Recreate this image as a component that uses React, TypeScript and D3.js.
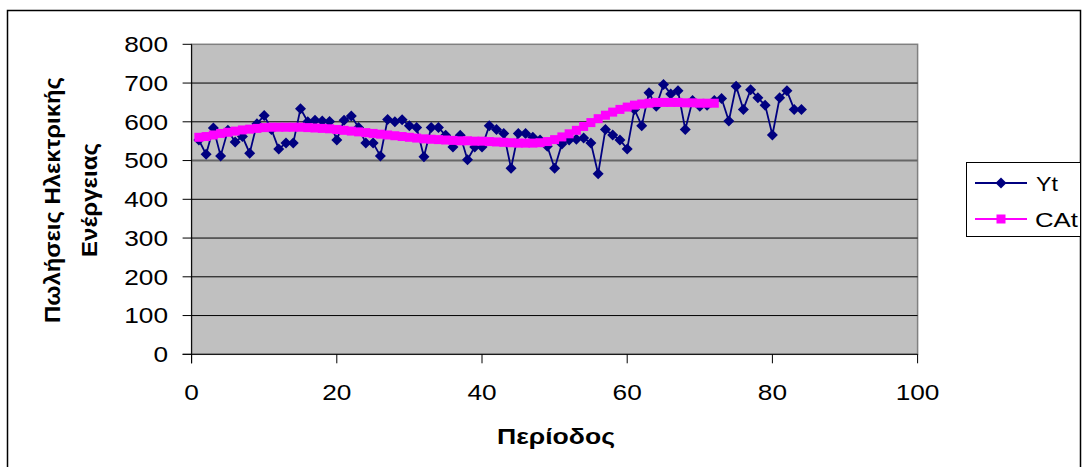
import React from "react";
import * as d3 from "d3";

// Monthly electricity sales (Yt) and the centred moving-average trend (CAt)
const periods: number[] = Array.from({ length: 84 }, (_, i) => i + 1);
const yt: number[] = [
  553, 516, 584, 512, 578, 548, 562, 519, 595, 616,
  580, 530, 545, 545, 634, 600, 604, 602, 601, 553,
  604, 615, 585, 545, 545, 512, 606, 600, 605, 590,
  585, 510, 585, 585, 565, 535, 565, 502, 535, 535,
  590, 580, 570, 480, 570, 570, 560, 553, 537, 480,
  543, 553, 555, 558, 545, 466, 580, 566, 553, 530,
  632, 590, 675, 640, 696, 672, 680, 580, 655, 640,
  643, 655, 660, 602, 692, 632, 683, 662, 643, 566,
  662, 680, 632, 632,
];
const cat: number[] = [
  560, 562, 566, 570, 573, 576, 579, 581, 583, 585,
  586, 586, 586, 586, 586, 585, 584, 583, 582, 580,
  578, 576, 574, 572, 570, 568, 566, 564, 562, 560,
  558, 556, 555, 554, 553, 552, 551, 551, 550, 550,
  549, 548, 547, 546, 545, 545, 545, 546, 549, 554,
  561, 569, 578, 588, 598, 608, 617, 625, 632, 638,
  643, 646, 648, 650, 650, 650, 650, 649, 649, 648,
  648, 648,
];
const xTicks: number[] = [0, 20, 40, 60, 80, 100];
const yTicks: number[] = [0, 100, 200, 300, 400, 500, 600, 700, 800];
const seriesNames: string[] = ["Yt", "CAt"];

const FONT = "Arial, 'Liberation Sans', sans-serif";
const DIGIT_W = 14.6;

export default function App() {
  const left = 191.6;
  const right = 917.6;
  const top = 44.3;
  const bottom = 354.3;

  const x = d3.scaleLinear().domain([0, 100]).range([left, right]);
  const y = d3.scaleLinear().domain([0, 800]).range([bottom, top]);

  const ytPts = periods.map((p, i) => [x(p), y(yt[i])] as [number, number]);
  const catPts = cat.map((v, i) => [x(periods[i]), y(v)] as [number, number]);
  const line = d3.line();

  const diamond = (cx: number, cy: number, r: number) =>
    `M${cx},${cy - r}L${cx + r},${cy}L${cx},${cy + r}L${cx - r},${cy}Z`;

  return (
    <svg
      width={1083}
      height={467}
      style={{ position: "absolute", left: 0, top: 0, background: "#fff" }}
    >
      {/* chart frame */}
      <rect x={7.5} y={10.5} width={1073} height={470} fill="#fff" stroke="#000" strokeWidth={1.5} />

      {/* plot area */}
      <rect x={left} y={top} width={right - left} height={bottom - top} fill="#C0C0C0" stroke="#808080" strokeWidth={1.5} />
      {yTicks.filter((t) => t > 0 && t < 800).map((t) => (
        <line
          key={"g" + t}
          x1={left}
          x2={right}
          y1={y(t)}
          y2={y(t)}
          stroke={t === 500 ? "#666" : "#000"}
          strokeWidth={t === 500 ? 2 : 1}
        />
      ))}

      {/* axes */}
      <line x1={left} x2={left} y1={top} y2={bottom + 9} stroke="#000" strokeWidth={1} />
      <line x1={left - 9} x2={right} y1={bottom} y2={bottom} stroke="#000" strokeWidth={1} />
      {yTicks.map((t) => {
        const s = String(t);
        return (
          <g key={"y" + t}>
            <line x1={left - 9} x2={left} y1={y(t)} y2={y(t)} stroke="#000" />
            <text
              x={168 - s.length * DIGIT_W}
              y={y(t)}
              dy="0.36em"
              textLength={s.length * DIGIT_W}
              lengthAdjust="spacingAndGlyphs"
              fontFamily={FONT}
              fontSize={22}
              fill="#000"
            >
              {s}
            </text>
          </g>
        );
      })}
      {xTicks.map((t) => {
        const s = String(t);
        return (
          <g key={"x" + t}>
            <line x1={x(t)} x2={x(t)} y1={bottom} y2={bottom + 9} stroke="#000" />
            <text
              x={x(t) - (s.length * DIGIT_W) / 2}
              y={392}
              dy="0.36em"
              textLength={s.length * DIGIT_W}
              lengthAdjust="spacingAndGlyphs"
              fontFamily={FONT}
              fontSize={22}
              fill="#000"
            >
              {s}
            </text>
          </g>
        );
      })}

      {/* axis titles */}
      <text
        x={497}
        y={436}
        dy="0.36em"
        textLength={118}
        lengthAdjust="spacingAndGlyphs"
        fontFamily={FONT}
        fontWeight="bold"
        fontSize={22}
        fill="#000"
      >
        Περίοδος
      </text>
      <text
        transform="translate(52,323) rotate(-90)"
        dy="0.36em"
        textLength={246}
        lengthAdjust="spacingAndGlyphs"
        fontFamily={FONT}
        fontWeight="bold"
        fontSize={22.5}
        fill="#000"
      >
        Πωλήσεις Ηλεκτρικής
      </text>
      <text
        transform="translate(89,257) rotate(-90)"
        dy="0.36em"
        textLength={114}
        lengthAdjust="spacingAndGlyphs"
        fontFamily={FONT}
        fontWeight="bold"
        fontSize={22.5}
        fill="#000"
      >
        Ενέργειας
      </text>

      {/* Yt series */}
      <path d={line(ytPts) ?? ""} fill="none" stroke="#000080" strokeWidth={1.8} />
      {ytPts.map(([cx, cy], i) => (
        <path key={"d" + i} d={diamond(cx, cy, 5.5)} fill="#000080" />
      ))}

      {/* CAt series */}
      <path d={line(catPts) ?? ""} fill="none" stroke="#FF00FF" strokeWidth={3} />
      {catPts.map(([cx, cy], i) => (
        <rect key={"s" + i} x={cx - 4.5} y={cy - 4.5} width={9} height={9} fill="#FF00FF" />
      ))}

      {/* legend */}
      <rect x={966.5} y={162.5} width={114} height={74} fill="#fff" stroke="#000" strokeWidth={1} />
      <line x1={975} x2={1027} y1={183} y2={183} stroke="#000080" strokeWidth={1.8} />
      <path d={diamond(1001, 183, 5.5)} fill="#000080" />
      <text
        x={1036}
        y={183}
        dy="0.36em"
        textLength={22}
        lengthAdjust="spacingAndGlyphs"
        fontFamily={FONT}
        fontSize={21}
        fill="#000"
      >
        {seriesNames[0]}
      </text>
      <line x1={975} x2={1027} y1={219} y2={219} stroke="#FF00FF" strokeWidth={1.8} />
      <rect x={996.5} y={214.5} width={9} height={9} fill="#FF00FF" />
      <text
        x={1035}
        y={219}
        dy="0.36em"
        textLength={43}
        lengthAdjust="spacingAndGlyphs"
        fontFamily={FONT}
        fontSize={21}
        fill="#000"
      >
        {seriesNames[1]}
      </text>
    </svg>
  );
}
